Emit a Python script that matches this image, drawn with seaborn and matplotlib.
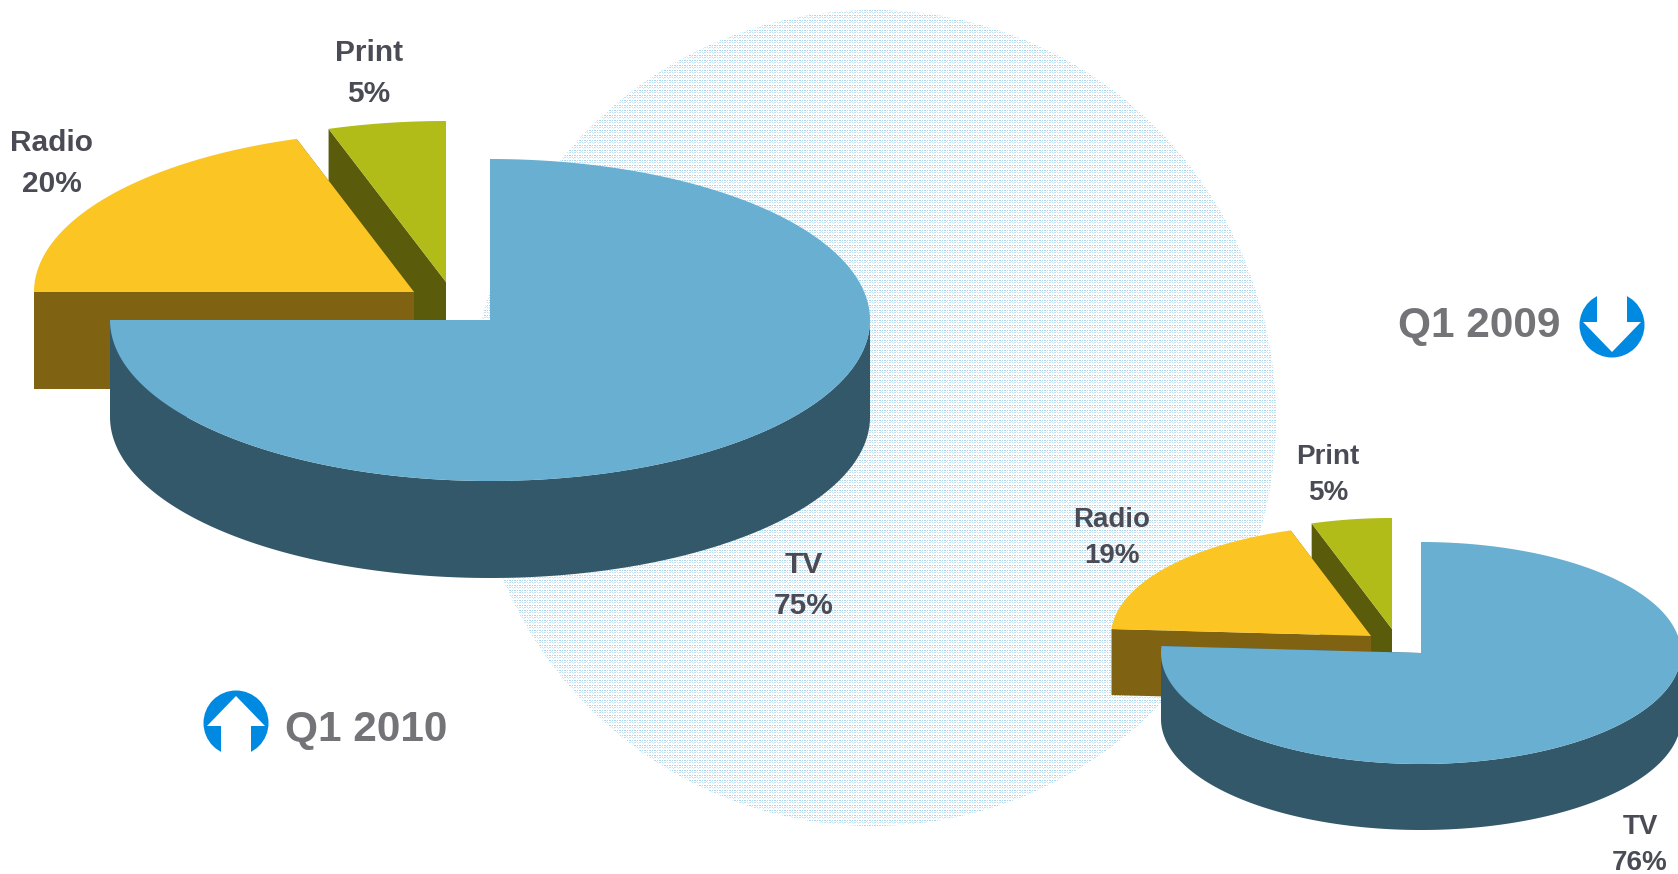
"""Share of ad spend by medium, Q1 2010 vs Q1 2009, drawn as two tilted 3D pies."""

import numpy as np
import matplotlib.pyplot as plt
from matplotlib.patches import Ellipse, Circle
import seaborn as sns

sns.set_theme(style="white")
plt.rcParams["font.family"] = ["Liberation Sans", "DejaVu Sans"]

# ---------------------------------------------------------------------------
# Data
# ---------------------------------------------------------------------------
MEDIA = ["TV", "Radio", "Print"]
SHARE_2010 = [75, 20, 5]
SHARE_2009 = [76, 19, 5]

TOP_COLORS = ["#68AFD1", "#FBC623", "#B1BC18"]
WALL_COLORS = ["#335869", "#7F6313", "#5A5C0C"]
LABEL_COLOR = "#4B4B55"
PERIOD_COLOR = "#737378"
ICON_COLOR = "#0089E0"

W, H = 1678, 874


def arc_points(cx, cy, rx, ry, start, end):
    t = np.radians(np.linspace(start, end, 300))
    return cx + rx * np.cos(t), cy - ry * np.sin(t)


def draw_pie(ax, shares, apexes, rx, ry, depth):
    angle = 90.0
    for i, share in enumerate(shares):
        end = angle - share * 3.6
        cx, cy = apexes[i]
        z = 2 + 2 * (2 - i)
        wall = WALL_COLORS[i]
        ax_, ay_ = arc_points(cx, cy, rx, ry, angle, end)

        # cut faces, the two straight edges pushed down by the depth
        for ex, ey in [(ax_[0], ay_[0]), (ax_[-1], ay_[-1])]:
            ax.fill([cx, ex, ex, cx], [cy, ey, ey + depth, cy + depth],
                    color=wall, lw=0, zorder=z)

        # rim, only the part of the arc on the near half of the ellipse
        lo, hi = max(end, -180.0), min(angle, 0.0)
        if lo < hi:
            rim_x, rim_y = arc_points(cx, cy, rx, ry, hi, lo)
            ax.fill(np.r_[rim_x, rim_x[::-1]], np.r_[rim_y, rim_y[::-1] + depth],
                    color=wall, lw=0, zorder=z)

        ax.fill(np.r_[cx, ax_], np.r_[cy, ay_], color=TOP_COLORS[i], lw=0, zorder=z + 1)
        angle = end


def draw_label(ax, x, y0, y1, name, share, size):
    ax.text(x, y0, name, ha="center", va="center", fontsize=size,
            fontweight="bold", color=LABEL_COLOR, zorder=20)
    ax.text(x, y1, f"{share}%", ha="center", va="center", fontsize=size,
            fontweight="bold", color=LABEL_COLOR, zorder=20)


def draw_icon(ax, cx, cy, direction):
    # direction -1 = arrow up, +1 = arrow down
    ax.add_patch(Circle((cx, cy), 32.5, color=ICON_COLOR, lw=0, zorder=10))
    d = direction
    ax.fill([cx, cx + 29, cx + 15, cx + 15, cx - 15, cx - 15, cx - 29],
            [cy + 27 * d, cy - 3 * d, cy - 3 * d, cy - 36 * d,
             cy - 36 * d, cy - 3 * d, cy - 3 * d],
            color="white", lw=0, zorder=11)


fig = plt.figure(figsize=(W / 100, H / 100), dpi=100)
ax = fig.add_axes([0, 0, 1, 1])

# ---------------------------------------------------------------------------
# Dithered backdrop circle
# ---------------------------------------------------------------------------
tile = np.ones((5, 5, 3))
tile[0, ::2] = [0.66, 0.84, 0.93]
tile[2, ::2] = [0.76, 0.89, 0.95]
tile[1, 1] = [0.84, 0.93, 0.97]
tile[3, 3] = [0.84, 0.93, 0.97]
pattern = np.tile(tile, (H // 5 + 1, W // 5 + 1, 1))[:H, :W]
img = ax.imshow(pattern, extent=(0, W, H, 0), interpolation="nearest",
                aspect="auto", zorder=1)
img.set_clip_path(Ellipse((873, 418), 806, 816, transform=ax.transData))
ax.set_xlim(0, W)
ax.set_ylim(H, 0)
ax.axis("off")

# ---------------------------------------------------------------------------
# Q1 2010
# ---------------------------------------------------------------------------
draw_pie(ax, SHARE_2010, [(490, 320), (414, 292), (446, 282)], 380, 161, 97)
draw_label(ax, 804, 565, 606, MEDIA[0], SHARE_2010[0], 21.5)
draw_label(ax, 52, 143, 184, MEDIA[1], SHARE_2010[1], 21.5)
draw_label(ax, 369, 53, 94, MEDIA[2], SHARE_2010[2], 21.5)
ax.text(366, 730, "Q1 2010", ha="center", va="center", fontsize=30.5,
        fontweight="bold", color=PERIOD_COLOR, zorder=20)
draw_icon(ax, 236, 723, -1)

# ---------------------------------------------------------------------------
# Q1 2009
# ---------------------------------------------------------------------------
draw_pie(ax, SHARE_2009, [(1421, 653), (1371, 636), (1392, 629)], 260, 111, 66)
draw_label(ax, 1640, 827, 863, MEDIA[0], SHARE_2009[0], 20)
draw_label(ax, 1112, 520, 556, MEDIA[1], SHARE_2009[1], 20)
draw_label(ax, 1328, 457, 493, MEDIA[2], SHARE_2009[2], 20)
ax.text(1479, 326, "Q1 2009", ha="center", va="center", fontsize=30.5,
        fontweight="bold", color=PERIOD_COLOR, zorder=20)
draw_icon(ax, 1612, 325, 1)

fig.savefig("out.png", dpi=100)
plt.close(fig)
